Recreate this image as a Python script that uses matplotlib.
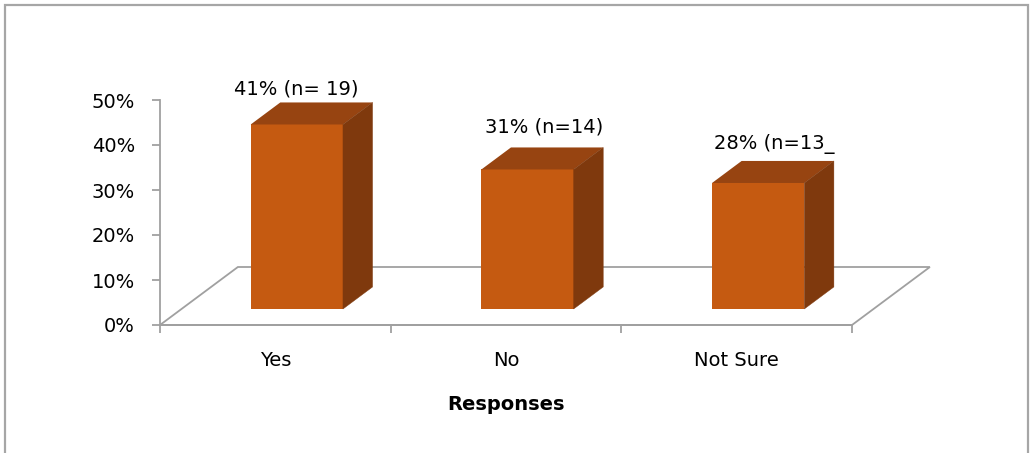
import matplotlib
matplotlib.use("Agg")
import matplotlib.pyplot as plt
from matplotlib.patches import Polygon, Rectangle
from matplotlib.ticker import FixedLocator, FuncFormatter

# --- data ---------------------------------------------------------------
categories = ["Yes", "No", "Not Sure"]
percent = [41, 31, 28]
labels = ["41% (n= 19)", "31% (n=14)", "28% (n=13_"]
y_ticks = [0, 10, 20, 30, 40, 50]
x_title = "Responses"

# --- styling ------------------------------------------------------------
W, H = 1031, 453
FRONT = "#C55A11"
TOP = "#974411"
SIDE = "#7F390D"
GRID = "#A0A0A0"
FONT = "DejaVu Sans"

FLOOR_DX = 78 / 231      # floor depth, horizontal shift (category units)
FLOOR_DY = 58 / 4.5      # floor depth, vertical shift (percent units)
BAR_FRONT = 0.276        # depth fraction where the bar front face sits
BAR_DEPTH = 0.38         # bar depth as a fraction of the floor depth
BAR_WIDTH = 0.40
label_shift_px = [(-15, 24), (2, 31), (1, 28)]

plt.rcParams["font.family"] = [FONT]

fig = plt.figure(figsize=(W / 100, H / 100), dpi=100)
ax = fig.add_axes([160 / W, (H - 325) / H, 692 / W, 225 / H])
ax.set_xlim(-0.5, 2.5)
ax.set_ylim(0, 50)

# outer chart frame
fig.patches.append(Rectangle((5 / W, -0.05), (1028 - 5) / W, 1.05 - 5 / H,
                             transform=fig.transFigure, fill=False,
                             edgecolor="#A6A6A6", linewidth=1.6, clip_on=False))

# floor of the 3D plot area
floor = Polygon([(-0.5, 0), (2.5, 0), (2.5 + FLOOR_DX, FLOOR_DY), (-0.5 + FLOOR_DX, FLOOR_DY)],
                closed=True, facecolor="white", edgecolor=GRID, linewidth=1.3,
                zorder=1, clip_on=False)
ax.add_patch(floor)

# columns: front face, top face and right side face
ox = BAR_FRONT * FLOOR_DX
oy = BAR_FRONT * FLOOR_DY
dx = BAR_DEPTH * FLOOR_DX
dy = BAR_DEPTH * FLOOR_DY
xs = [i + ox for i in range(len(categories))]
ax.bar(xs, percent, width=BAR_WIDTH, bottom=oy, color=FRONT, linewidth=0,
       zorder=4, clip_on=False)
for x, v in zip(xs, percent):
    xl, xr = x - BAR_WIDTH / 2, x + BAR_WIDTH / 2
    top = oy + v
    ax.add_patch(Polygon([(xl, top), (xr, top), (xr + dx, top + dy), (xl + dx, top + dy)],
                         closed=True, facecolor=TOP, edgecolor="none", zorder=4, clip_on=False))
    ax.add_patch(Polygon([(xr, oy), (xr, top), (xr + dx, top + dy), (xr + dx, oy + dy)],
                         closed=True, facecolor=SIDE, edgecolor=SIDE, linewidth=0.3,
                         zorder=4, clip_on=False))

# value labels above the columns
for x, v, txt, (sx, sy) in zip(xs, percent, labels, label_shift_px):
    ax.annotate(txt, (x + dx / 2, oy + v + dy / 2), xytext=(sx, sy),
                textcoords="offset pixels", ha="center", va="center",
                fontsize=14, color="black", zorder=5, annotation_clip=False)

# axes
for side in ("top", "right"):
    ax.spines[side].set_visible(False)
for side in ("left", "bottom"):
    ax.spines[side].set_color(GRID)
    ax.spines[side].set_linewidth(1.3)

ax.yaxis.set_major_locator(FixedLocator(y_ticks))
ax.yaxis.set_major_formatter(FuncFormatter(lambda v, _: f"{v:.0f}%"))
ax.tick_params(axis="y", which="major", direction="out", length=6, width=1.3,
               color=GRID, pad=12, labelsize=14, labelcolor="black")

ax.set_xticks(range(len(categories)))
ax.set_xticklabels(categories)
ax.set_xticks([-0.5, 0.5, 1.5, 2.5], minor=True)
ax.tick_params(axis="x", which="major", length=0, pad=19, labelsize=14, labelcolor="black")
ax.tick_params(axis="x", which="minor", direction="out", length=6, width=1.3, color=GRID)

ax.set_xlabel(x_title, fontsize=14, fontweight="bold", labelpad=18)
ax.patch.set_visible(False)

fig.savefig("out.png", dpi=100)
